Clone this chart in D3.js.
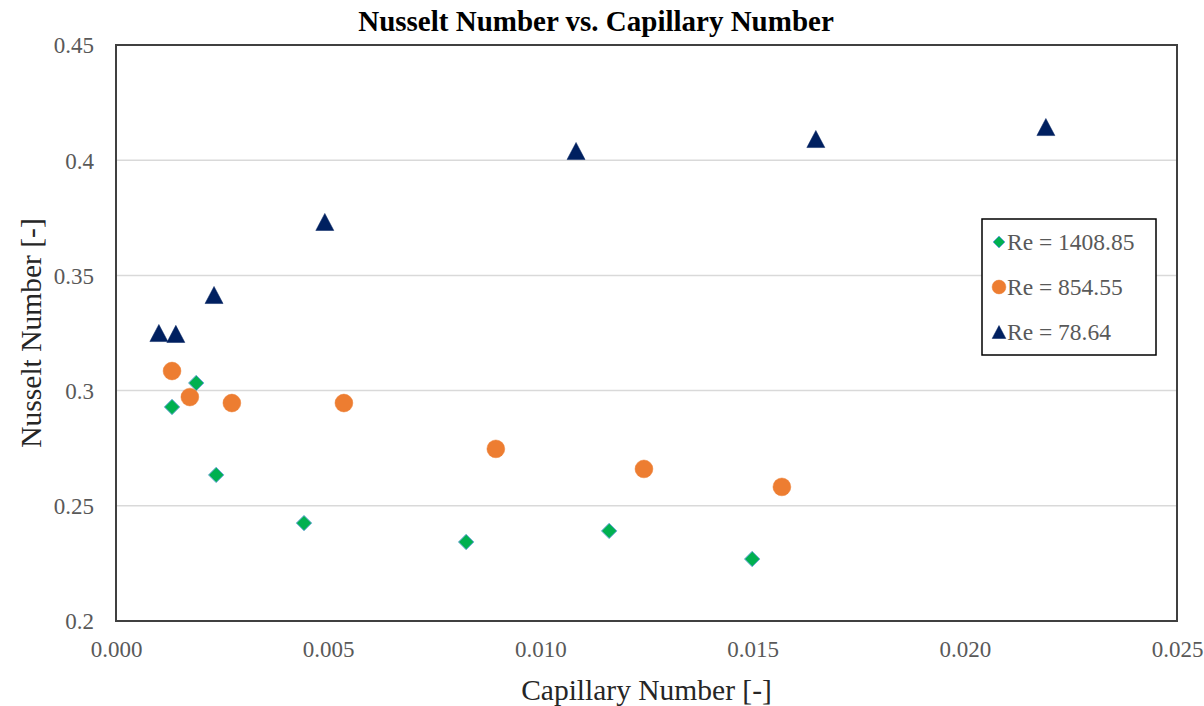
<!DOCTYPE html>
<html>
<head>
<meta charset="utf-8">
<script src="https://cdn.jsdelivr.net/npm/d3@7"></script>
<style>
  html, body { margin: 0; padding: 0; background: #fff; }
  svg { display: block; }
  svg text { font-family: "Liberation Serif", "Times New Roman", serif !important; }
</style>
</head>
<body>
<svg id="chart" width="1204" height="706"></svg>
<script>
// ---- data ----
const seriesNames = ["Re = 1408.85", "Re = 854.55", "Re = 78.64"];
const re1408_x = [0.00132, 0.00189, 0.00236, 0.00443, 0.00825, 0.01162, 0.01499];
const re1408_y = [0.2929, 0.3033, 0.2634, 0.2425, 0.2343, 0.2391, 0.2269];
const re854_x  = [0.00132, 0.00174, 0.00273, 0.00537, 0.00895, 0.01244, 0.01569];
const re854_y  = [0.3085, 0.2972, 0.2946, 0.2946, 0.2747, 0.2660, 0.2582];
const re78_x   = [0.00101, 0.00141, 0.00231, 0.00492, 0.01084, 0.01649, 0.02191];
const re78_y   = [0.3250, 0.3246, 0.3415, 0.3732, 0.4040, 0.4092, 0.4144];
const xTicks = [0, 0.005, 0.010, 0.015, 0.020, 0.025];
const xTickLabels = ["0.000", "0.005", "0.010", "0.015", "0.020", "0.025"];
const yTicks = [0.2, 0.25, 0.3, 0.35, 0.4, 0.45];
const yTickLabels = ["0.2", "0.25", "0.3", "0.35", "0.4", "0.45"];

const colors = ["#00B050", "#ED7D31", "#002060"];

// triangle centred on its bounding box (like Excel markers)
const triBox = {
  draw(ctx, size) {
    const w = Math.sqrt(size) * 1.2, h = w * 0.95;
    ctx.moveTo(0, -h / 2);
    ctx.lineTo(w / 2, h / 2);
    ctx.lineTo(-w / 2, h / 2);
    ctx.closePath();
  }
};
const shapes = [d3.symbolDiamond2, d3.symbolCircle, triBox];

const series = [
  {name: seriesNames[0], xs: re1408_x, ys: re1408_y},
  {name: seriesNames[1], xs: re854_x, ys: re854_y},
  {name: seriesNames[2], xs: re78_x, ys: re78_y}
];

// ---- layout ----
const svg = d3.select("#chart");
const L = 116, R = 1177, T = 45, B = 621;
const x = d3.scaleLinear().domain([0, 0.025]).range([L, R]);
const y = d3.scaleLinear().domain([0.2, 0.45]).range([B, T]);

// gridlines
svg.append("g")
  .selectAll("line").data(yTicks.slice(1, -1)).join("line")
  .attr("x1", L).attr("x2", R)
  .attr("y1", d => y(d)).attr("y2", d => y(d))
  .attr("stroke", "#d9d9d9").attr("stroke-width", 1.5);

// axes (labels only)
const xAxis = d3.axisBottom(x).tickValues(xTicks)
  .tickFormat((d, i) => xTickLabels[i]).tickSize(0).tickPadding(0);
const gx = svg.append("g").attr("transform", `translate(0,${B})`).call(xAxis)
  .attr("font-family", null);
gx.select(".domain").remove();
gx.selectAll("text").style("font-size", "23px").attr("fill", "#595959")
  .attr("dy", null).attr("y", 36);

const yAxis = d3.axisLeft(y).tickValues(yTicks)
  .tickFormat((d, i) => yTickLabels[i]).tickSize(0).tickPadding(0);
const gy = svg.append("g").attr("transform", `translate(${L},0)`).call(yAxis)
  .attr("font-family", null);
gy.select(".domain").remove();
gy.selectAll("text").style("font-size", "23px").attr("fill", "#595959")
  .attr("x", -22).attr("dy", "0.34em");

// plot border
svg.append("rect").attr("x", L).attr("y", T).attr("width", R - L).attr("height", B - T)
  .attr("fill", "none").attr("stroke", "#404040").attr("stroke-width", 2);

// points
const sizes = [150, 250, 225];
series.forEach((s, i) => {
  const sym = d3.symbol().type(shapes[i]).size(sizes[i]);
  svg.append("g").selectAll("path").data(s.xs.map((v, k) => [v, s.ys[k]])).join("path")
    .attr("transform", d => `translate(${x(d[0])},${y(d[1])})`)
    .attr("d", sym)
    .attr("fill", colors[i])
    .attr("stroke", i === 0 ? "#6FA8DC" : colors[i])
    .attr("stroke-width", i === 0 ? 1 : 0.5);
});

// title
svg.append("text").attr("x", 596).attr("y", 31).attr("text-anchor", "middle")
  .style("font-size", "29px").attr("font-weight", "bold").attr("fill", "#000")
  .text("Nusselt Number vs. Capillary Number");

// axis titles
svg.append("text").attr("x", (L + R) / 2).attr("y", 700).attr("text-anchor", "middle")
  .style("font-size", "29.5px").attr("fill", "#262626").text("Capillary Number [-]");
svg.append("text").attr("transform", `translate(41,${(T + B) / 2}) rotate(-90)`)
  .attr("text-anchor", "middle").style("font-size", "29.5px").attr("fill", "#262626")
  .text("Nusselt Number [-]");

// legend
const lg = svg.append("g");
lg.append("rect").attr("x", 982).attr("y", 219).attr("width", 174).attr("height", 136)
  .attr("fill", "#fff").attr("stroke", "#000").attr("stroke-width", 1.5);
const legSizes = [90, 150, 130];
series.forEach((s, i) => {
  const cy = 242 + i * 45;
  lg.append("path").attr("transform", `translate(999,${cy})`)
    .attr("d", d3.symbol().type(shapes[i]).size(legSizes[i]))
    .attr("fill", colors[i])
    .attr("stroke", i === 0 ? "#6FA8DC" : colors[i]).attr("stroke-width", i === 0 ? 1 : 0.5);
  lg.append("text").attr("x", 1007).attr("y", cy).attr("dy", "0.34em")
    .style("font-size", "23.5px").attr("fill", "#595959").text(s.name);
});
</script>
</body>
</html>
